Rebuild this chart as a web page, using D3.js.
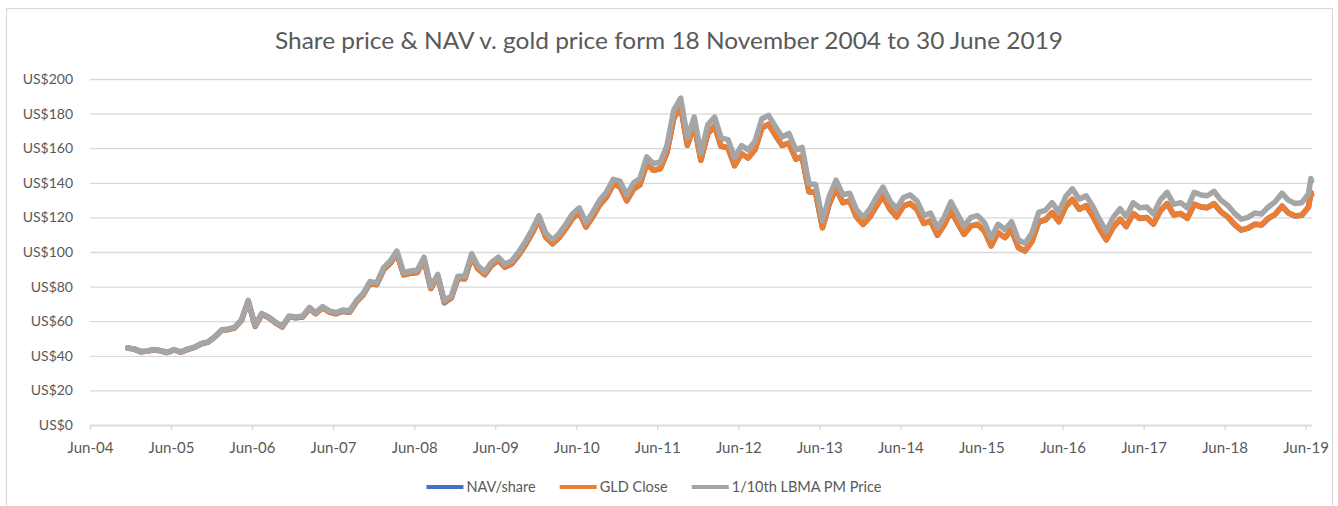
<!DOCTYPE html>
<html lang="en">
<head>
<meta charset="UTF-8">
<title>Share price &amp; NAV v. gold price</title>
<script src="https://cdn.jsdelivr.net/npm/d3@7"></script>
<style>
    html, body {
        margin: 0;
        background: #fff;
    }
    svg {
        display: block;
        font-family: Lato, "Open Sans", sans-serif;
    }
</style>
</head>
<body>
<div id="vis"></div>
<script>

    // monthly readings (US$ per share / per 1/10 oz)
    var dates = [
        "2004-11-18","2004-12-15",
        "2005-01-15","2005-02-15","2005-03-15","2005-04-15","2005-05-15","2005-06-15","2005-07-15","2005-08-15","2005-09-15","2005-10-15","2005-11-15","2005-12-15",
        "2006-01-15","2006-02-15","2006-03-15","2006-04-15","2006-05-15","2006-06-15","2006-07-15","2006-08-15","2006-09-15","2006-10-15","2006-11-15","2006-12-15",
        "2007-01-15","2007-02-15","2007-03-15","2007-04-15","2007-05-15","2007-06-15","2007-07-15","2007-08-15","2007-09-15","2007-10-15","2007-11-15","2007-12-15",
        "2008-01-15","2008-02-15","2008-03-15","2008-04-15","2008-05-15","2008-06-15","2008-07-15","2008-08-15","2008-09-15","2008-10-15","2008-11-15","2008-12-15",
        "2009-01-15","2009-02-15","2009-03-15","2009-04-15","2009-05-15","2009-06-15","2009-07-15","2009-08-15","2009-09-15","2009-10-15","2009-11-15","2009-12-15",
        "2010-01-15","2010-02-15","2010-03-15","2010-04-15","2010-05-15","2010-06-15","2010-07-15","2010-08-15","2010-09-15","2010-10-15","2010-11-15","2010-12-15",
        "2011-01-15","2011-02-15","2011-03-15","2011-04-15","2011-05-15","2011-06-15","2011-07-15","2011-08-15","2011-09-15","2011-10-15","2011-11-15","2011-12-15",
        "2012-01-15","2012-02-15","2012-03-15","2012-04-15","2012-05-15","2012-06-15","2012-07-15","2012-08-15","2012-09-15","2012-10-15","2012-11-15","2012-12-15",
        "2013-01-15","2013-02-15","2013-03-15","2013-04-15","2013-05-15","2013-06-15","2013-07-15","2013-08-15","2013-09-15","2013-10-15","2013-11-15","2013-12-15",
        "2014-01-15","2014-02-15","2014-03-15","2014-04-15","2014-05-15","2014-06-15","2014-07-15","2014-08-15","2014-09-15","2014-10-15","2014-11-15","2014-12-15",
        "2015-01-15","2015-02-15","2015-03-15","2015-04-15","2015-05-15","2015-06-15","2015-07-15","2015-08-15","2015-09-15","2015-10-15","2015-11-15","2015-12-15",
        "2016-01-15","2016-02-15","2016-03-15","2016-04-15","2016-05-15","2016-06-15","2016-07-15","2016-08-15","2016-09-15","2016-10-15","2016-11-15","2016-12-15",
        "2017-01-15","2017-02-15","2017-03-15","2017-04-15","2017-05-15","2017-06-15","2017-07-15","2017-08-15","2017-09-15","2017-10-15","2017-11-15","2017-12-15",
        "2018-01-15","2018-02-15","2018-03-15","2018-04-15","2018-05-15","2018-06-15","2018-07-15","2018-08-15","2018-09-15","2018-10-15","2018-11-15","2018-12-15",
        "2019-01-15","2019-02-15","2019-03-15","2019-04-15","2019-05-15","2019-06-14","2019-06-25","2019-06-28"
    ];

    var lbma = [
        44.5, 44.0,
        42.5, 42.8, 43.6, 43.0, 42.0, 43.5, 42.2, 43.8, 45.0, 47.0, 48.0, 51.0,
        55.0, 55.5, 56.5, 61.0, 72.0, 57.5, 64.5, 62.5, 59.5, 57.0, 63.0, 62.5,
        63.0, 68.0, 65.0, 68.5, 66.0, 65.0, 66.5, 66.0, 72.0, 76.0, 83.0, 82.0,
        91.0, 95.0, 100.5, 88.0, 89.0, 89.5, 97.0, 80.0, 87.0, 72.0, 74.5, 86.0,
        86.0, 99.0, 92.0, 88.5, 94.0, 97.0, 93.0, 95.0, 100.0, 106.0, 113.0, 121.0,
        111.0, 107.0, 110.5, 116.0, 122.0, 125.5, 117.0, 123.0, 130.0, 134.5, 142.0, 141.0,
        133.0, 140.0, 142.5, 155.0, 151.0, 152.0, 161.5, 182.0, 189.0, 166.0, 178.0, 157.0,
        173.5, 178.0, 166.0, 165.0, 154.5, 161.5, 159.0, 164.0, 177.0, 179.0, 172.5, 166.5,
        168.5, 159.0, 160.5, 139.5, 139.0, 118.0, 132.0, 141.5, 133.0, 134.0, 124.5, 120.0,
        125.0, 132.0, 137.5, 129.5, 125.0, 131.5, 133.0, 129.5, 121.0, 122.5, 114.0, 120.0,
        129.0, 121.5, 115.0, 120.0, 121.0, 117.0, 108.0, 116.0, 113.0, 117.5, 107.0, 105.0,
        111.0, 123.0, 124.0, 128.5, 123.0, 132.0, 136.5, 130.5, 132.5, 126.5, 118.5, 112.0,
        120.0, 125.0, 120.5, 128.5, 125.5, 126.0, 122.0, 130.0, 134.5, 127.5, 128.5, 125.5,
        134.5, 133.0, 132.5, 135.0, 130.0, 127.0, 122.5, 119.0, 120.0, 122.5, 122.0, 126.0,
        129.0, 134.0, 130.0, 128.0, 128.5, 133.5, 142.5, 141.0
    ];

    var gld = [
        44.5, 44.0,
        42.4, 42.7, 43.5, 42.9, 41.9, 43.4, 42.1, 43.7, 44.9, 46.9, 47.9, 50.9,
        54.7, 55.2, 56.2, 60.6, 71.6, 57.2, 64.1, 62.1, 59.1, 56.7, 62.6, 62.1,
        62.4, 67.3, 64.4, 67.8, 65.3, 64.4, 65.8, 65.3, 71.3, 75.2, 82.2, 81.2,
        89.7, 93.7, 99.1, 86.8, 87.8, 88.2, 95.6, 78.9, 85.8, 71.0, 73.5, 84.8,
        84.5, 97.2, 90.3, 86.9, 92.3, 95.3, 91.3, 93.3, 98.2, 104.1, 111.0, 118.8,
        108.7, 104.8, 108.2, 113.6, 119.4, 122.9, 114.5, 120.4, 127.3, 131.7, 139.0, 138.0,
        129.7, 136.5, 138.9, 151.1, 147.2, 148.2, 157.5, 177.5, 184.3, 161.9, 173.6, 153.1,
        168.5, 172.8, 161.2, 160.2, 150.0, 156.8, 154.4, 159.2, 171.9, 173.8, 167.5, 161.7,
        162.9, 153.8, 155.2, 134.9, 134.4, 114.1, 127.6, 136.8, 128.6, 129.6, 120.4, 116.0,
        120.4, 127.1, 132.4, 124.7, 120.4, 126.6, 128.1, 124.7, 116.5, 118.0, 109.8, 115.6,
        123.7, 116.5, 110.3, 115.1, 116.0, 112.2, 103.6, 111.2, 108.4, 112.7, 102.6, 100.7,
        106.1, 117.6, 118.5, 122.8, 117.6, 126.2, 130.5, 124.8, 126.7, 120.9, 113.3, 107.1,
        114.2, 119.0, 114.7, 122.3, 119.5, 120.0, 116.1, 123.8, 128.0, 121.4, 122.3, 119.5,
        127.5, 126.1, 125.6, 128.0, 123.2, 120.4, 116.1, 112.8, 113.8, 116.1, 115.7, 119.4,
        121.8, 126.5, 122.7, 120.8, 121.3, 126.0, 134.5, 133.1
    ];

    var nav = [
        44.4, 44.0,
        42.4, 42.7, 43.5, 42.9, 41.9, 43.4, 42.1, 43.7, 44.9, 46.9, 47.9, 50.8,
        54.7, 55.2, 56.1, 60.6, 71.5, 57.0, 64.1, 62.1, 59.0, 56.7, 62.6, 62.0,
        62.4, 67.3, 64.3, 67.8, 65.3, 64.3, 65.8, 65.2, 71.3, 75.2, 82.1, 81.2,
        89.7, 93.6, 99.0, 86.8, 87.7, 88.2, 95.5, 78.9, 85.7, 70.6, 73.4, 84.8,
        84.5, 97.1, 90.3, 86.9, 92.2, 95.2, 91.3, 93.2, 98.2, 104.1, 110.9, 118.7,
        108.6, 104.7, 108.2, 113.5, 119.4, 122.8, 114.5, 120.4, 127.2, 131.7, 139.0, 137.9,
        129.6, 136.5, 138.8, 151.0, 147.2, 148.1, 157.4, 177.4, 184.0, 161.7, 173.5, 153.0,
        168.5, 172.7, 161.1, 160.2, 149.9, 156.8, 154.3, 159.2, 171.8, 173.8, 167.4, 161.6,
        162.9, 153.7, 155.1, 134.8, 134.3, 114.0, 127.6, 136.7, 128.5, 129.6, 120.3, 116.0,
        120.4, 127.0, 132.3, 124.7, 120.3, 126.6, 128.0, 124.6, 116.5, 117.9, 109.7, 115.6,
        123.6, 116.5, 110.2, 115.1, 115.9, 112.2, 103.5, 111.2, 108.3, 112.7, 102.5, 100.6,
        106.1, 117.5, 118.5, 122.7, 117.5, 126.2, 130.4, 124.7, 126.7, 120.8, 113.2, 107.0,
        114.2, 118.9, 114.7, 122.2, 119.4, 119.9, 116.1, 123.7, 128.0, 121.4, 122.3, 119.5,
        127.5, 126.0, 125.6, 127.9, 123.2, 120.3, 116.0, 112.7, 113.8, 116.0, 115.6, 119.4,
        121.8, 126.5, 122.6, 120.8, 121.2, 125.9, 134.4, 133.1
    ];

    var xTicks = ["2004-06-01","2005-06-01","2006-06-01","2007-06-01","2008-06-01","2009-06-01","2010-06-01","2011-06-01",
                  "2012-06-01","2013-06-01","2014-06-01","2015-06-01","2016-06-01","2017-06-01","2018-06-01","2019-06-01"];
    var yTicks = [0, 20, 40, 60, 80, 100, 120, 140, 160, 180, 200];

    var seriesNames = ["NAV/share", "GLD Close", "1/10th LBMA PM Price"];
    var seriesColors = ["#4472C4", "#ED7D31", "#A5A5A5"];
    var titleText = "Share price & NAV v. gold price form 18 November 2004 to 30 June 2019";

    /*
     *  LAYOUT
     */
    var view_width = 1338, view_height = 506;
    var margin = {top: 79, bottom: 81, left: 90, right: 26};
    var width = view_width - margin.left - margin.right;
    var height = view_height - margin.top - margin.bottom;

    var parseDate = d3.timeParse("%Y-%m-%d");

    var svg = d3.select("#vis")
        .append("svg")
            .attr("width", view_width)
            .attr("height", view_height);

    svg.append("rect")
        .attr("x", 6.5).attr("y", 8.5)
        .attr("width", 1326).attr("height", 520)
        .attr("fill", "#fff")
        .attr("stroke", "#d9d9d9")
        .attr("stroke-width", 1.2);

    svg.append("text")
        .attr("x", 669)
        .attr("y", 49)
        .attr("text-anchor", "middle")
        .attr("fill", "#595959")
        .attr("textLength", 788)
        .attr("lengthAdjust", "spacingAndGlyphs")
        .style("font-size", "23px")
        .text(titleText);

    var g = svg.append("g")
        .attr("transform", "translate(" + margin.left + "," + margin.top + ")");

    var x_scale = d3.scaleTime()
        .domain([parseDate("2004-06-01"), parseDate("2019-06-30")])
        .range([0, width]);

    var y_scale = d3.scaleLinear()
        .domain([0, 200])
        .range([height, 0]);

    // y axis + gridlines
    var y_axis = d3.axisLeft(y_scale)
        .tickValues(yTicks)
        .tickSize(-width)
        .tickPadding(17)
        .tickFormat(function(d) { return "US$" + d; });

    var yg = g.append("g").attr("class", "y axis").call(y_axis);
    yg.select(".domain").remove();
    yg.selectAll(".tick line").attr("stroke", "#d9d9d9").attr("stroke-width", 1.3);
    yg.selectAll(".tick text")
        .attr("fill", "#595959")
        .style("font-size", "14px")
        .style("font-family", "Lato, 'Open Sans', sans-serif");

    // x axis
    var x_axis = d3.axisBottom(x_scale)
        .tickValues(xTicks.map(parseDate))
        .tickSizeInner(5)
        .tickSizeOuter(0)
        .tickPadding(12)
        .tickFormat(d3.timeFormat("%b-%y"));

    var xg = g.append("g")
        .attr("class", "x axis")
        .attr("transform", "translate(0," + height + ")")
        .call(x_axis);
    xg.select(".domain").attr("stroke", "#d9d9d9").attr("stroke-width", 1.3);
    xg.selectAll(".tick line").attr("stroke", "#d9d9d9").attr("stroke-width", 1.3);
    xg.selectAll(".tick text")
        .attr("fill", "#595959")
        .style("font-size", "15px")
        .style("font-family", "Lato, 'Open Sans', sans-serif");

    // lines: NAV under GLD under LBMA
    var series = [nav, gld, lbma];
    series.forEach(function(vals, i) {
        var pts = dates.map(function(d, j) { return {date: parseDate(d), value: vals[j]}; });
        var line = d3.line()
            .x(function(d) { return x_scale(d.date); })
            .y(function(d) { return y_scale(d.value); });
        g.append("path")
            .datum(pts)
            .attr("fill", "none")
            .attr("stroke", seriesColors[i])
            .attr("stroke-width", 5.5)
            .attr("stroke-linejoin", "round")
            .attr("stroke-linecap", "round")
            .attr("d", line);
    });

    // legend
    var legend = svg.append("g").attr("class", "legend");
    var lx = 0;
    seriesNames.forEach(function(name, i) {
        var it = legend.append("g");
        it.append("line")
            .attr("x1", 0).attr("x2", 37)
            .attr("y1", 0).attr("y2", 0)
            .attr("stroke", seriesColors[i])
            .attr("stroke-width", 4);
        var t = it.append("text")
            .attr("x", 40)
            .attr("dy", "0.35em")
            .attr("fill", "#595959")
            .style("font-size", "14.5px")
            .text(name);
        it.attr("transform", "translate(" + lx + ",0)");
        lx += 40 + t.node().getComputedTextLength() + 24;
    });
    var legendWidth = lx - 24;
    legend.attr("transform", "translate(" + (654 - legendWidth / 2) + ",487)");

</script>
</body>
</html>
